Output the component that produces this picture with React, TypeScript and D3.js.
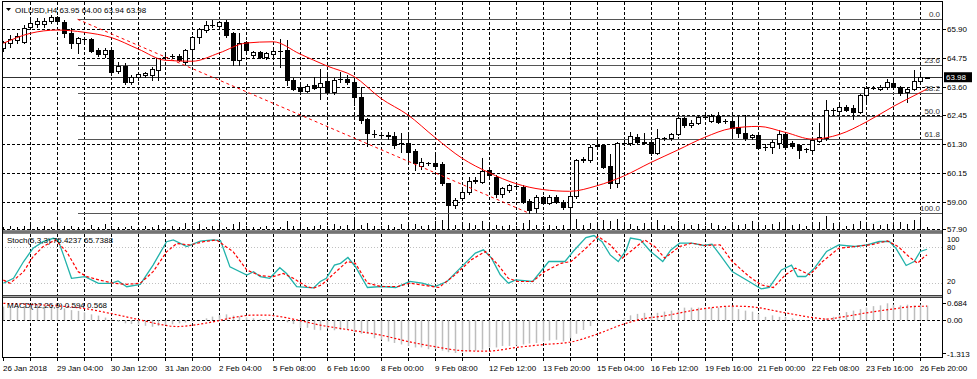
import React from 'react';
import * as d3 from 'd3';

// ---------- DATA ----------
const symbolTitle = 'OILUSD,H4';
const lastQuote = ['63.95', '64.00', '63.94', '63.98'];

const barOpen = [
  65.15, 65.34, 65.47, 65.40, 66.00, 66.11, 66.10, 66.24, 66.38, 66.20,
  65.75, 65.36, 65.50, 65.50, 65.07, 64.91, 65.07, 64.24, 64.44, 63.78,
  63.98, 64.06, 64.07, 64.27, 64.78, 64.82, 64.83, 64.60, 65.10, 65.60,
  65.87, 66.06, 66.03, 66.20, 65.74, 64.67, 65.40, 64.87, 65.00, 64.78,
  64.91, 65.04, 65.07, 63.87, 63.60, 63.44, 63.67, 63.58, 63.84, 63.38,
  63.90, 63.90, 63.77, 63.18, 62.30, 61.72, 61.66, 61.68, 61.62, 61.33,
  61.36, 61.04, 60.44, 60.53, 60.56, 60.50, 59.73, 58.87, 59.13, 59.38,
  59.84, 59.80, 60.27, 60.00, 59.30, 59.46, 59.63, 59.60, 59.03, 58.73,
  59.17, 58.95, 59.20, 59.00, 58.80, 59.22, 60.68, 60.66, 61.24, 61.26,
  60.42, 59.73, 61.33, 61.33, 61.60, 61.36, 61.40, 60.95, 61.53, 61.53,
  61.70, 62.33, 62.07, 62.16, 62.38, 62.24, 62.43, 62.24, 62.22, 61.97,
  61.76, 61.57, 61.66, 61.18, 61.20, 61.33, 61.70, 61.36, 61.26, 61.09,
  61.06, 61.44, 61.53, 62.67, 62.64, 62.78, 62.73, 62.60, 63.27, 63.56,
  63.50, 63.58, 63.76, 63.60, 63.40, 63.50, 63.84, 63.95,
];
const barHigh = [
  65.45, 65.67, 65.75, 66.07, 66.30, 66.35, 66.35, 66.47, 66.45, 66.27,
  65.94, 65.60, 65.60, 65.55, 65.15, 65.15, 65.12, 64.60, 64.55, 64.05,
  64.20, 64.20, 64.40, 64.77, 64.88, 64.90, 64.90, 65.10, 65.65, 65.95,
  66.25, 66.27, 66.25, 66.27, 65.80, 65.74, 65.45, 65.05, 65.05, 65.00,
  65.10, 65.50, 65.46, 63.95, 63.70, 63.70, 64.00, 64.30, 64.10, 63.95,
  64.20, 64.05, 63.85, 63.60, 62.35, 61.85, 61.80, 61.78, 61.80, 61.75,
  61.75, 61.10, 60.75, 60.60, 61.00, 60.60, 59.75, 59.15, 59.50, 59.97,
  59.98, 60.73, 60.35, 60.05, 59.60, 59.72, 59.75, 59.65, 59.10, 59.25,
  59.22, 59.25, 59.25, 59.05, 59.30, 60.70, 60.80, 61.25, 61.50, 61.30,
  60.90, 61.40, 61.45, 61.80, 61.70, 61.74, 61.45, 61.90, 61.60, 61.75,
  62.40, 62.40, 62.25, 62.45, 62.45, 62.50, 62.60, 62.30, 62.30, 62.45,
  62.48, 61.70, 61.72, 61.30, 61.45, 61.85, 61.75, 61.42, 61.30, 61.15,
  61.50, 62.13, 63.05, 62.75, 62.90, 62.85, 62.85, 63.30, 63.62, 63.62,
  63.65, 63.90, 63.85, 63.62, 63.55, 64.27, 64.10, 64.00,
];
const barLow = [
  65.05, 65.20, 65.35, 65.34, 65.90, 66.00, 66.00, 66.15, 66.20, 65.60,
  65.14, 64.95, 65.40, 65.00, 64.85, 64.80, 64.07, 64.15, 63.71, 63.72,
  63.85, 63.98, 63.87, 63.87, 64.72, 64.75, 64.62, 64.50, 64.60, 65.34,
  65.80, 65.98, 65.95, 65.60, 64.47, 64.47, 64.95, 64.80, 64.75, 64.70,
  64.70, 64.40, 63.67, 63.45, 63.35, 63.38, 63.50, 63.10, 63.30, 63.30,
  63.80, 63.70, 62.86, 62.13, 61.22, 61.60, 61.55, 61.50, 61.15, 61.00,
  60.60, 60.26, 60.30, 60.45, 60.42, 59.65, 58.60, 58.75, 59.05, 59.30,
  59.75, 59.75, 59.93, 59.20, 59.20, 59.40, 59.55, 58.95, 58.53, 58.60,
  58.90, 58.90, 58.95, 58.70, 58.55, 59.15, 60.60, 60.60, 61.10, 60.35,
  59.55, 59.60, 61.25, 61.28, 61.35, 61.30, 60.85, 60.90, 61.48, 61.45,
  61.65, 62.00, 62.00, 62.10, 62.30, 62.20, 62.15, 62.15, 61.60, 61.60,
  61.45, 61.50, 61.10, 61.05, 60.95, 61.15, 61.15, 61.15, 60.74, 61.00,
  60.95, 61.40, 61.45, 62.50, 62.60, 62.62, 62.30, 62.55, 62.95, 63.50,
  63.45, 63.50, 63.55, 63.25, 63.00, 63.45, 63.80, 63.94,
];
const barClose = [
  65.39, 65.50, 65.63, 65.96, 66.14, 66.24, 66.25, 66.40, 66.24, 65.75,
  65.34, 65.54, 65.52, 65.04, 64.91, 65.07, 64.20, 64.44, 63.80, 63.98,
  64.10, 64.14, 64.30, 64.74, 64.80, 64.83, 64.67, 65.07, 65.60, 65.90,
  66.07, 66.07, 66.20, 65.67, 64.67, 65.34, 65.07, 65.00, 64.80, 64.94,
  65.04, 65.05, 63.87, 63.50, 63.42, 63.64, 63.54, 63.76, 63.38, 63.87,
  63.92, 63.77, 63.20, 62.27, 61.73, 61.70, 61.65, 61.62, 61.26, 61.33,
  61.00, 60.53, 60.60, 60.55, 60.44, 59.73, 58.88, 59.07, 59.40, 59.84,
  59.86, 60.22, 60.07, 59.30, 59.53, 59.66, 59.63, 58.99, 58.66, 59.17,
  58.95, 59.20, 59.00, 58.80, 59.22, 60.66, 60.70, 61.20, 61.26, 60.40,
  59.76, 61.33, 61.35, 61.62, 61.40, 61.38, 60.93, 61.53, 61.55, 61.70,
  62.33, 62.07, 62.16, 62.37, 62.40, 62.43, 62.20, 62.22, 61.93, 61.76,
  61.53, 61.66, 61.13, 61.20, 61.40, 61.70, 61.20, 61.22, 61.06, 61.09,
  61.46, 61.57, 62.67, 62.67, 62.80, 62.67, 62.60, 63.27, 63.54, 63.56,
  63.60, 63.80, 63.60, 63.36, 63.50, 63.84, 64.00, 63.98,
];
const tickVolume = [
  2, 3, 2, 3, 5, 2, 3, 2, 4, 3, 3, 2, 2, 4, 2, 5, 3, 2, 2, 3,
  2, 3, 2, 4, 2, 3, 2, 6, 3, 5, 2, 3, 4, 2, 5, 7, 3, 2, 2, 3,
  2, 2, 8, 3, 4, 2, 3, 4, 3, 5, 3, 4, 9, 4, 6, 3, 3, 4, 2, 5,
  4, 5, 3, 4, 8, 9, 15, 4, 5, 6, 4, 8, 5, 4, 3, 4, 3, 6, 9, 4,
  3, 4, 3, 4, 16, 10, 4, 6, 5, 9, 8, 10, 4, 5, 3, 6, 4, 9, 4, 3,
  8, 5, 4, 5, 3, 6, 4, 3, 7, 4, 5, 8, 6, 4, 5, 7, 9, 4, 5, 3,
  6, 7, 13, 6, 4, 3, 5, 8, 6, 5, 4, 5, 6, 7, 5, 9, 10, 2,
];
// moving average, [bar, price]
const maPoints: [number, number][] = [
  [0, 65.34], [4, 65.74], [8, 65.87], [12, 65.78], [16, 65.57], [20, 65.11], [24, 64.66],
  [28, 64.62], [32, 64.95], [36, 65.35], [40, 65.40], [44, 64.91], [48, 64.43], [52, 64.01],
  [56, 63.13], [60, 62.47], [64, 61.57], [68, 60.74], [72, 60.16], [76, 59.72], [80, 59.48],
  [84, 59.41], [88, 59.63], [92, 60.02], [96, 60.56], [100, 61.06], [104, 61.57], [108, 61.93],
  [112, 62.01], [116, 61.77], [120, 61.50], [124, 61.69], [128, 62.19], [132, 62.81],
  [136, 63.37], [137, 63.51],
];
// Fibonacci retracement
const fibLevels = [0, 23.6, 38.2, 50, 61.8, 100];
const fibLabels = ['0.0', '23.6', '38.2', '50.0', '61.8', '100.0'];
const fibAnchorBars = [11, 78];
const fibAnchorPrices = [66.30, 58.53];
const currentPrice = 63.98;

const priceTicks = [65.90, 64.75, 63.60, 62.45, 61.30, 60.15, 59.00, 57.90];

// Stochastic (5,3,3), [bar, value]
const stochK: [number, number][] = [
  [0, 18.7], [1.5, 27], [3, 55], [4.4, 77], [5.9, 88], [7.4, 93.7], [8.1, 91], [8.9, 66],
  [10.1, 27], [12.1, 29.7], [14.1, 18.7], [16, 18.7], [17, 22.5], [18.3, 13], [20.3, 17],
  [22.2, 49], [24.2, 88], [25.2, 91], [27.2, 80], [29.2, 89], [31.1, 91], [32.2, 90],
  [33.6, 46], [36.1, 32.5], [37.1, 38], [38.1, 29.7], [39.5, 27], [41, 44.7], [42, 35],
  [43.5, 13], [45, 12], [46, 11], [47, 21.7], [47.9, 27], [49.1, 49], [50, 52], [51.1, 61.7],
  [52.2, 46.7], [54, 11.7], [56.1, 13.3], [58.2, 11.7], [60.3, 21.7], [62.1, 19], [64, 13.3],
  [65.8, 21.7], [68.2, 49], [70, 69], [71.2, 74.4], [72.4, 60.6], [73.7, 32.8], [74.9, 19],
  [76, 24.4], [78.5, 21.7], [80.9, 55], [83.3, 55], [84.5, 71.7], [86.4, 95], [87.6, 98.3],
  [88.8, 88], [90, 66], [91.2, 55], [92.4, 74.4], [93, 94], [94.5, 91], [96, 71.7],
  [97.8, 55], [99, 74.4], [100.3, 85.6], [102.1, 85.6], [103.9, 81.7], [105.1, 84],
  [106.3, 66], [108.1, 38.3], [110.6, 21.7], [112.4, 9.4], [113.6, 11.7], [115.4, 41],
  [116.9, 49], [117.8, 30], [119, 30], [120.3, 44], [122.1, 71.7], [123.9, 82.8],
  [126.3, 80], [128.1, 82.8], [129.9, 88.3], [131.4, 88.3], [132.4, 77], [133.9, 48.3],
  [135.1, 55], [136, 71.7], [137, 75.42],
];
const stochD: [number, number][] = [
  [0, 24], [1, 18.7], [3, 38], [4.4, 63], [5.9, 80], [7.7, 91], [9.4, 71], [11.1, 38],
  [12.4, 29.7], [14.3, 24], [16.3, 18.7], [18.3, 17], [20.3, 18.7], [22.2, 38], [24.2, 71],
  [25.7, 85], [27.7, 82.5], [29.7, 88], [31.6, 91], [34.1, 71], [36.1, 40.8], [38.1, 31.4],
  [40, 29.7], [41.5, 35], [43, 27], [45, 13], [46, 10.5], [47.2, 16], [49.1, 35.6], [51, 55],
  [52.2, 52], [54, 19], [56, 13.3], [58.5, 13.3], [60.3, 19], [62, 16], [64.6, 11.7],
  [67, 32.8], [69.4, 57.8], [71.5, 71.7], [73.4, 49], [74.9, 27], [76.3, 21.7], [78.5, 21.7],
  [80.3, 38.3], [82.7, 52], [84.2, 55], [86.4, 77], [88.2, 96.7], [90, 82.8], [91.8, 60.6],
  [93.6, 77], [95.1, 91], [96.6, 80], [98.1, 60.6], [100.3, 80], [102.1, 85.6], [104, 81.7],
  [106.3, 82.8], [108.1, 55], [110.6, 30], [112.4, 16], [114.2, 11.7], [116, 32.8],
  [117.5, 44], [119.6, 32.8], [121.5, 55], [123.9, 77], [126.3, 80], [128.7, 82.8],
  [131.1, 89.4], [132.7, 80], [134.3, 63.3], [135.6, 52], [136.6, 63.3], [137, 65.74],
];
const stochLevels = [80, 20];
const stochAxis = ['100', '80', '20', '0'];
const stochAxisValues = [100, 80, 20, 0];

// MACD (12,26,9)
const macdMain = [
  0.55, 0.51, 0.55, 0.57, 0.62, 0.62, 0.62, 0.59, 0.55, 0.48,
  0.41, 0.38, 0.32, 0.24, 0.19, 0.11, 0.04, -0.05, -0.12, -0.15,
  -0.19, -0.22, -0.26, -0.23, -0.19, -0.16, -0.12, -0.09, -0.05, 0.01,
  0.08, 0.15, 0.21, 0.24, 0.19, 0.15, 0.11, 0.08, 0.05, 0.03,
  0.01, -0.01, -0.08, -0.15, -0.30, -0.30, -0.38, -0.40, -0.33, -0.40,
  -0.39, -0.36, -0.48, -0.54, -0.54, -0.72, -0.78, -0.85, -0.91, -0.97,
  -1.03, -1.09, -1.09, -1.16, -1.16, -1.22, -1.28, -1.313, -1.28, -1.25,
  -1.22, -1.18, -1.09, -1.09, -1.03, -1.03, -1.01, -0.97, -0.93, -0.91,
  -0.85, -0.81, -0.78, -0.85, -0.72, -0.54, -0.39, -0.23, -0.04, -0.04,
  -0.03, 0.02, 0.08, 0.20, 0.26, 0.30, 0.20, 0.30, 0.35, 0.39,
  0.42, 0.51, 0.51, 0.51, 0.51, 0.51, 0.51, 0.57, 0.57, 0.45,
  0.39, 0.35, 0.26, 0.14, 0.20, 0.14, 0.14, 0.08, 0.02, -0.02,
  -0.04, 0.02, 0.08, 0.14, 0.23, 0.33, 0.39, 0.45, 0.51, 0.57,
  0.60, 0.684, 0.63, 0.60, 0.63, 0.60, 0.63, 0.594,
];
const macdSignal: [number, number][] = [
  [0, 0.68], [4, 0.64], [8, 0.58], [11.9, 0.48], [15.8, 0.28], [20.3, 0.015], [23.2, -0.16],
  [25.7, -0.25], [28.2, -0.19], [31.1, -0.06], [34.1, 0.11], [37.1, 0.21], [39.1, 0.21],
  [41, 0.15], [44, -0.01], [47.3, -0.21], [48.2, -0.25], [51.9, -0.41], [56.1, -0.6],
  [60, -0.85], [64, -1.06], [68.2, -1.22], [71.8, -1.24], [76.1, -1.09], [80.3, -0.97],
  [84, -0.88], [87.6, -0.6], [91.8, -0.17], [94.2, 0.02], [98.5, 0.2], [102.1, 0.39],
  [104.5, 0.49], [108.2, 0.57], [110.6, 0.55], [116, 0.3], [120.3, 0.1], [122.1, 0.05],
  [124.5, 0.14], [128.7, 0.33], [131.8, 0.45], [134.8, 0.55], [137, 0.568],
];
const macdAxis = [0.684, 0, -1.313];
const macdAxisText = ['0.684', '0.00', '-1.313'];

const timeLabelBars = [0, 8, 16, 24, 32, 40, 48, 56, 64, 72, 80, 88, 96, 104, 112, 120, 128, 136];
const timeLabels = [
  '26 Jan 2018', '29 Jan 04:00', '30 Jan 12:00', '31 Jan 20:00', '2 Feb 04:00', '5 Feb 08:00',
  '6 Feb 16:00', '8 Feb 00:00', '9 Feb 08:00', '12 Feb 12:00', '13 Feb 20:00', '15 Feb 04:00',
  '16 Feb 12:00', '19 Feb 16:00', '21 Feb 00:00', '22 Feb 08:00', '23 Feb 16:00', '26 Feb 20:00',
];

// ---------- LAYOUT ----------
const W = 977;
const H = 379;
const LEFT = 2;
const RIGHT = 942;
const MAIN_TOP = 2;
const MAIN_BOTTOM = 229.5;
const ST_TOP = 234;
const ST_BOTTOM = 295;
const MD_TOP = 298;
const MD_BOTTOM = 357;
const FONT = "'Liberation Sans', Arial, sans-serif";

export default function App() {
  const N = barOpen.length;
  const x = d3.scaleLinear().domain([0, 136]).range([3.4, 920.3]);
  const yP = d3.scaleLinear().domain([57.9, 65.9]).range([229, 29.3]);
  const yS = d3.scaleLinear().domain([0, 100]).range([294.5, 234.5]);
  const yM = d3.scaleLinear().domain([-1.313, 0.684]).range([353, 303.3]);
  const yV = d3.scaleLinear().domain([0, 16]).range([0, 16]);
  // label baselines for the stochastic axis (MT4 keeps the extremes inside the panel)
  const stochLabelY = d3.scaleLinear().domain([0, 20, 80, 100]).range([293.5, 284, 249.5, 241.5]);

  const px = (i: number) => Math.round(x(i));

  const maPath = d3.line<[number, number]>().x(d => x(d[0])).y(d => yP(d[1])).curve(d3.curveMonotoneX)(maPoints) || '';
  const kPath = d3.line<[number, number]>().x(d => x(d[0])).y(d => yS(d[1]))(stochK) || '';
  const dPath = d3.line<[number, number]>().x(d => x(d[0])).y(d => yS(d[1]))(stochD) || '';
  const sigPath = d3.line<[number, number]>().x(d => x(d[0])).y(d => yM(d[1])).curve(d3.curveMonotoneX)(macdSignal) || '';

  const gridBars = d3.range(4, N, 4);
  const fibPrice = (lvl: number) => fibAnchorPrices[0] - (fibAnchorPrices[0] - fibAnchorPrices[1]) * lvl / 100;

  const dash = '3,2';
  const sep = (y: number) => (
    <g>
      <rect x={LEFT} y={y} width={RIGHT - LEFT} height={3} fill="#a8a8a8" />
      <line x1={LEFT} x2={RIGHT} y1={y + 0.5} y2={y + 0.5} stroke="#404040" />
      <line x1={LEFT} x2={RIGHT} y1={y + 2.5} y2={y + 2.5} stroke="#404040" />
    </g>
  );

  return (
    <svg width={W} height={H} style={{ position: 'absolute', left: 0, top: 0, background: '#fff' }}
      fontFamily={FONT} fontSize={8}>
      <defs>
        <clipPath id="clipMain"><rect x={LEFT} y={MAIN_TOP} width={RIGHT - LEFT} height={MAIN_BOTTOM - MAIN_TOP} /></clipPath>
        <clipPath id="clipSt"><rect x={LEFT} y={ST_TOP} width={RIGHT - LEFT} height={ST_BOTTOM - ST_TOP} /></clipPath>
        <clipPath id="clipMd"><rect x={LEFT} y={MD_TOP} width={RIGHT - LEFT} height={MD_BOTTOM - MD_TOP} /></clipPath>
      </defs>
      <rect x={0} y={0} width={W} height={H} fill="#fff" />

      {/* ---- grid ---- */}
      <g stroke="#000" strokeWidth={1} strokeDasharray={dash} shapeRendering="crispEdges">
        {gridBars.map(i => (
          <g key={'vg' + i}>
            <line x1={px(i) + 0.5} x2={px(i) + 0.5} y1={MAIN_TOP} y2={MAIN_BOTTOM} />
            <line x1={px(i) + 0.5} x2={px(i) + 0.5} y1={ST_TOP} y2={ST_BOTTOM} />
            <line x1={px(i) + 0.5} x2={px(i) + 0.5} y1={MD_TOP} y2={MD_BOTTOM} />
          </g>
        ))}
        {priceTicks.map(p => (
          <line key={'hg' + p} x1={LEFT} x2={RIGHT} y1={Math.round(yP(p)) + 0.5} y2={Math.round(yP(p)) + 0.5} />
        ))}
        <line x1={LEFT} x2={RIGHT} y1={Math.round(yM(0)) + 0.5} y2={Math.round(yM(0)) + 0.5} />
      </g>

      {/* ---- main panel ---- */}
      <g clipPath="url(#clipMain)">
        {fibLevels.map((lvl, k) => {
          const y = Math.round(yP(fibPrice(lvl))) + 0.5;
          return (
            <g key={'fib' + lvl}>
              <line x1={x(fibAnchorBars[0])} x2={RIGHT} y1={y} y2={y} stroke="#555" strokeWidth={1} shapeRendering="crispEdges" />
              <text x={RIGHT - 2} y={y - 2.5} textAnchor="end" fill="#333">{fibLabels[k]}</text>
            </g>
          );
        })}
        <line x1={LEFT} x2={RIGHT} y1={Math.round(yP(currentPrice)) + 0.5} y2={Math.round(yP(currentPrice)) + 0.5}
          stroke="#303030" shapeRendering="crispEdges" />
        <g stroke="#000" shapeRendering="crispEdges">
          {tickVolume.map((v, i) => (
            <line key={'v' + i} x1={px(i) + 0.5} x2={px(i) + 0.5} y1={229} y2={229 - yV(v)} />
          ))}
        </g>
        <g shapeRendering="crispEdges">
          {d3.range(N).map(i => {
            const o = barOpen[i], c = barClose[i], h = barHigh[i], l = barLow[i];
            const cx = px(i);
            const top = Math.round(yP(Math.max(o, c)));
            const bot = Math.round(yP(Math.min(o, c)));
            const bull = c >= o;
            return (
              <g key={'c' + i}>
                <line x1={cx + 0.5} x2={cx + 0.5} y1={Math.round(yP(h))} y2={Math.round(yP(l)) + 1} stroke="#000" />
                {bot - top < 1 ? (
                  <line x1={cx - 2} x2={cx + 3} y1={top + 0.5} y2={top + 0.5} stroke="#000" />
                ) : bull ? (
                  <rect x={cx - 1.5} y={top + 0.5} width={4} height={bot - top} fill="#fff" stroke="#000" />
                ) : (
                  <rect x={cx - 2} y={top} width={5} height={bot - top + 1} fill="#000" />
                )}
              </g>
            );
          })}
        </g>
        <path d={maPath} fill="none" stroke="#ff0000" strokeWidth={1} />
        <line x1={x(fibAnchorBars[0])} y1={yP(fibAnchorPrices[0])} x2={x(fibAnchorBars[1])} y2={yP(fibAnchorPrices[1])}
          stroke="#ff0000" strokeDasharray="3,3" strokeWidth={1} />
      </g>
      <polygon points="6,8 11,8 8.5,11" fill="#000" />
      <text x={15} y={13} fill="#000">{symbolTitle}{'  '}{lastQuote.join(' ')}</text>

      {/* ---- stochastic ---- */}
      <g clipPath="url(#clipSt)">
        {stochLevels.map(v => (
          <line key={'sl' + v} x1={LEFT} x2={RIGHT} y1={Math.round(yS(v)) + 0.5} y2={Math.round(yS(v)) + 0.5}
            stroke="#c0c0c0" strokeDasharray="1,2" shapeRendering="crispEdges" />
        ))}
        <path d={kPath} fill="none" stroke="#20b2aa" strokeWidth={1.3} />
        <path d={dPath} fill="none" stroke="#ff0000" strokeWidth={1.2} strokeDasharray="3,2" />
      </g>
      <text x={7} y={243} fill="#000">Stoch(5,3,3) 75.4237 65.7388</text>

      {/* ---- MACD ---- */}
      <g clipPath="url(#clipMd)">
        <g stroke="#bdbdbd" strokeWidth={1.5}>
          {macdMain.map((v, i) => (
            <line key={'m' + i} x1={px(i) + 0.5} x2={px(i) + 0.5} y1={yM(0)} y2={yM(v)} />
          ))}
        </g>
        <path d={sigPath} fill="none" stroke="#ff0000" strokeWidth={1.2} strokeDasharray="2,2" />
      </g>
      <text x={7} y={308} fill="#000">MACD(12,26,9) 0.594 0.568</text>

      {/* ---- separators & frame ---- */}
      {sep(230.5)}
      {sep(295)}
      <g stroke="#000" fill="none" shapeRendering="crispEdges">
        <line x1={LEFT + 0.5} x2={LEFT + 0.5} y1={1} y2={MD_BOTTOM + 0.5} />
        <line x1={RIGHT + 0.5} x2={RIGHT + 0.5} y1={1} y2={MD_BOTTOM + 0.5} />
        <line x1={LEFT} x2={RIGHT + 1} y1={1.5} y2={1.5} />
        <line x1={LEFT} x2={RIGHT + 1} y1={MD_BOTTOM + 0.5} y2={MD_BOTTOM + 0.5} />
      </g>

      {/* ---- right axis ---- */}
      <g fill="#000">
        {priceTicks.map(p => (
          <g key={'pt' + p}>
            <line x1={RIGHT} x2={RIGHT + 4} y1={Math.round(yP(p)) + 0.5} y2={Math.round(yP(p)) + 0.5} stroke="#000" shapeRendering="crispEdges" />
            <text x={RIGHT + 5} y={yP(p) + 3}>{p.toFixed(2)}</text>
          </g>
        ))}
        <rect x={RIGHT + 2} y={yP(currentPrice) - 5} width={28} height={10} fill="#000" />
        <text x={RIGHT + 4} y={yP(currentPrice) + 3} fill="#fff">{currentPrice.toFixed(2)}</text>
        {stochAxis.map((t, k) => (
          <text key={'sa' + t} x={RIGHT + 5} y={stochLabelY(stochAxisValues[k])} fontSize={7.5}>{t}</text>
        ))}
        {macdAxis.map((v, k) => (
          <g key={'ma' + k}>
            <line x1={RIGHT} x2={RIGHT + 4} y1={Math.round(yM(v)) + 0.5} y2={Math.round(yM(v)) + 0.5} stroke="#000" shapeRendering="crispEdges" />
            <text x={RIGHT + 5} y={yM(v) + 3 + (k === 2 ? 1 : 0)}>{macdAxisText[k]}</text>
          </g>
        ))}
      </g>

      {/* ---- time axis ---- */}
      <g stroke="#000" shapeRendering="crispEdges">
        {d3.range(0, N, 4).map(i => (
          <line key={'tt' + i} x1={px(i) + 0.5} x2={px(i) + 0.5} y1={MD_BOTTOM} y2={MD_BOTTOM + 4} />
        ))}
      </g>
      <g fill="#000">
        {timeLabelBars.map((b, k) => (
          <text key={'tl' + k} x={px(b)} y={371}>{timeLabels[k]}</text>
        ))}
      </g>
    </svg>
  );
}
